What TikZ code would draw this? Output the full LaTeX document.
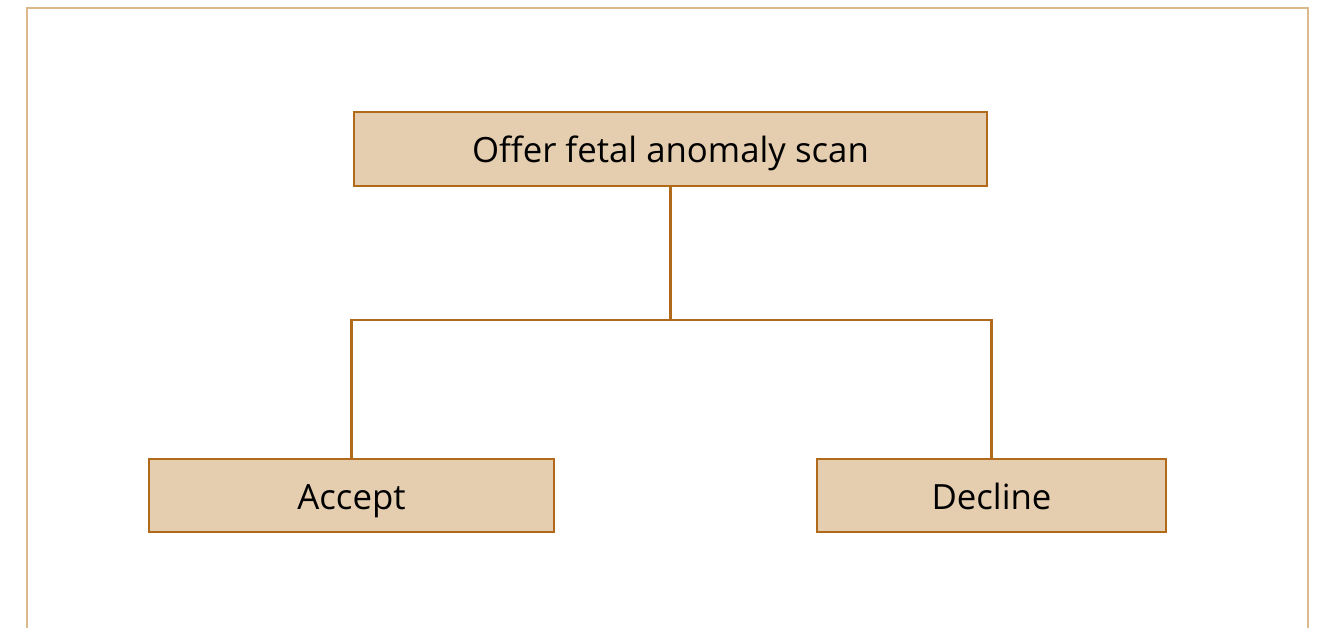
\documentclass[tikz,border=0pt]{standalone}
\usepackage{fontspec}
\setmainfont{Open Sans}
\usetikzlibrary{positioning}
\definecolor{cadre}{HTML}{DDB88C}
\definecolor{boite}{HTML}{E5CDB0}
\definecolor{trait}{HTML}{B06A1A}
\tikzset{etape/.style={draw=trait, line width=1.4pt, fill=boite, minimum height=1.47cm,
  inner sep=0pt, text height=0.6cm, text depth=0.04cm, font=\fontsize{19.8}{23}\selectfont}}
\begin{document}
\begin{tikzpicture}[x=0.02cm,y=0.02cm]
\useasboundingbox (0,0) rectangle (1319,628);
% cadre ouvert en bas
\draw[cadre, line width=1.4pt] (27,-5) -- (27,620) -- (1308,620) -- (1308,-5);
\node[etape, minimum width=12.66cm] (offre) at (670.5,479) {Offer fetal anomaly scan};
\node[etape, minimum width=8.1cm] (accept) at (351.5,132.5) {Accept};
\node[etape, minimum width=6.98cm] (decline) at (991.5,132.5) {Decline};
\coordinate (split) at (670.5,308);
% branches
\draw[trait, line width=1.4pt] (offre.south) -- (split);
\draw[trait, line width=1.4pt] (accept.north) |- (split) -| (decline.north);
\end{tikzpicture}
\end{document}
